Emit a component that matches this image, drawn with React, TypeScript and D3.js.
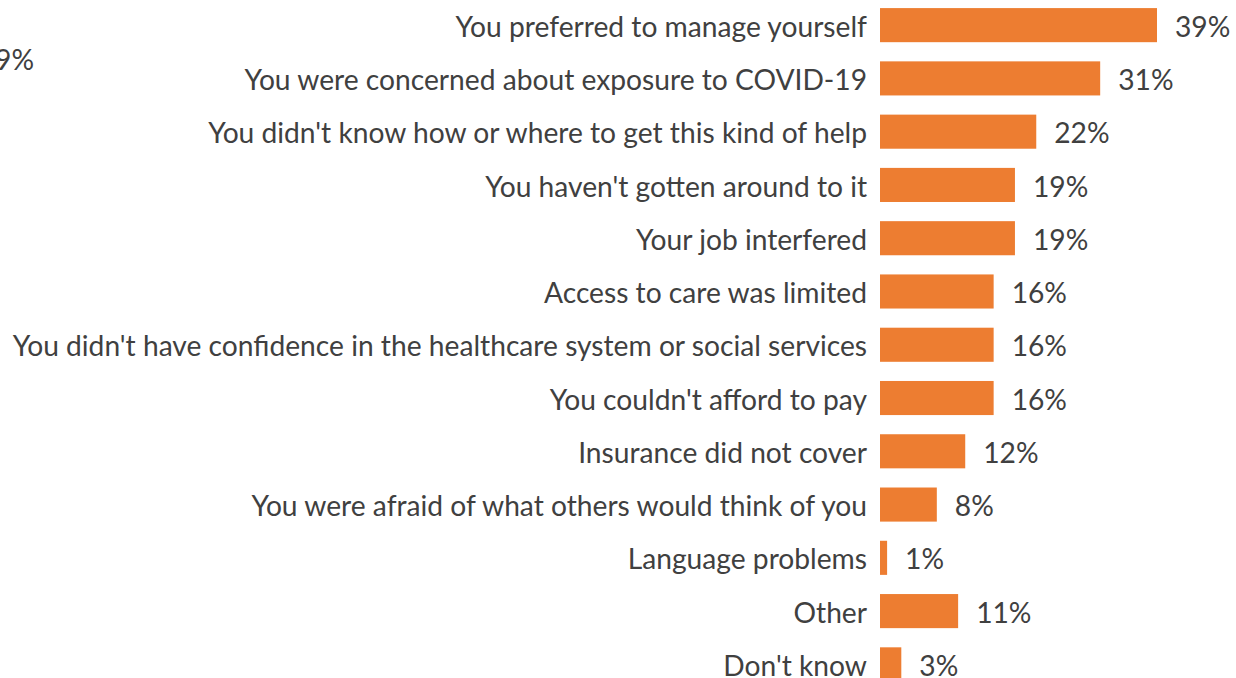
import React from "react";
import * as d3 from "d3";

const categories = [
  "You preferred to manage yourself",
  "You were concerned about exposure to COVID-19",
  "You didn't know how or where to get this kind of help",
  "You haven't gotten around to it",
  "Your job interfered",
  "Access to care was limited",
  "You didn't have confidence in the healthcare system or social services",
  "You couldn't afford to pay",
  "Insurance did not cover",
  "You were afraid of what others would think of you",
  "Language problems",
  "Other",
  "Don't know",
];
const values = [39, 31, 22, 19, 19, 16, 16, 16, 12, 8, 1, 11, 3];
const strayLabel = "39%";

export default function App() {
  const W = 1236, H = 678;
  const x = d3.scaleLinear().domain([0, 39]).range([880, 1157]);
  const y = d3.scaleBand<string>().domain(categories).range([-1.5, 691]).paddingInner(0.36).paddingOuter(0.18);
  const font = "Lato, sans-serif";
  const textColor = "#404040";
  const fs = 28.2;
  const dy = "0.41em";
  return (
    <svg width={W} height={H} style={{ position: "absolute", left: 0, top: 0, background: "#fff" }} fontFamily={font}>
      <text x={34} y={58} textAnchor="end" dy={dy} fontSize={fs} fill={textColor}>{strayLabel}</text>
      {categories.map((c, i) => {
        const yy = y(c)!;
        const bh = y.bandwidth();
        return (
          <g key={c}>
            <text x={867} y={yy + bh / 2} dy={dy} textAnchor="end" fontSize={fs} fill={textColor}>{c}</text>
            <rect x={x(0)} y={yy} width={x(values[i]) - x(0)} height={bh} fill="#ED7D31" />
            <text x={x(values[i]) + 18} y={yy + bh / 2} dy={dy} fontSize={fs} fill={textColor}>{values[i]}%</text>
          </g>
        );
      })}
    </svg>
  );
}
